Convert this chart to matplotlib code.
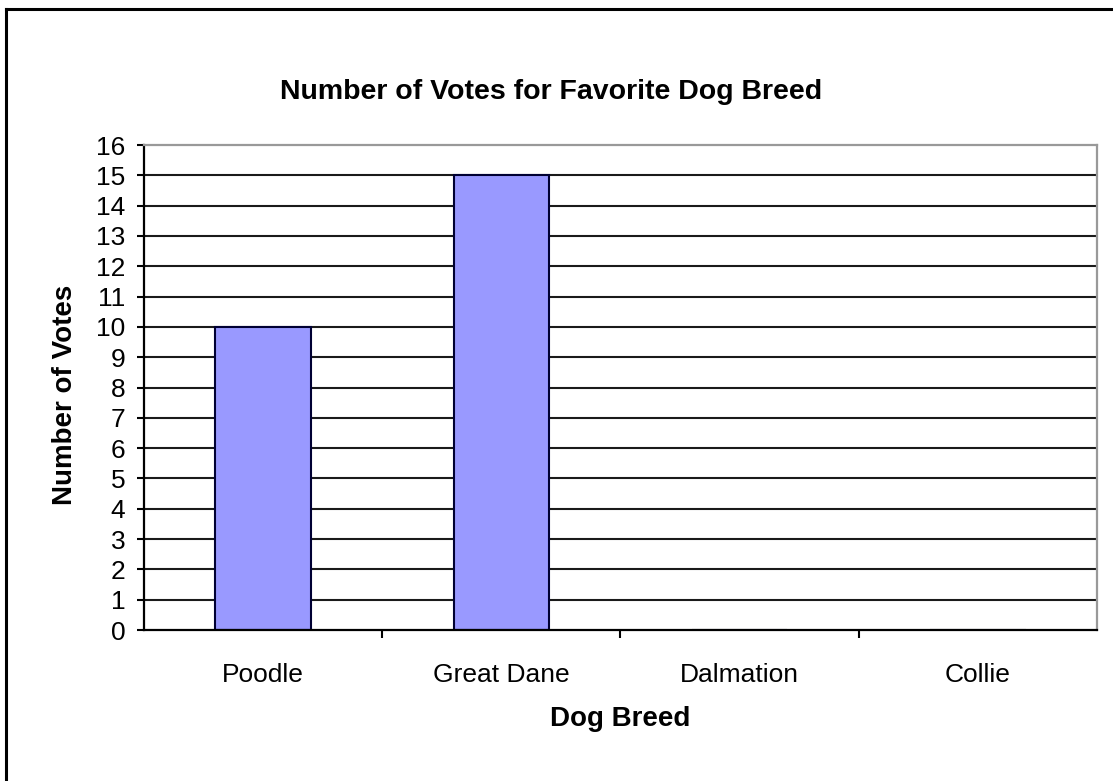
import numpy as np
import matplotlib.pyplot as plt
from matplotlib.lines import Line2D

# Chart data
breeds = ['Poodle', 'Great Dane', 'Dalmation', 'Collie']
votes = [10, 15, 0, 0]
y_ticks = list(range(0, 17))

plt.rcParams['font.family'] = ['Liberation Sans', 'DejaVu Sans']

fig = plt.figure(figsize=(11.13, 7.81), dpi=100)
ax = fig.add_axes([0.1294, 0.1933, 0.8562, 0.6210])

x = np.arange(len(breeds))

# Horizontal gridlines
for v in y_ticks[1:-1]:
    ax.axhline(v, color='#1a1a1a', lw=1.5, zorder=1)

ax.bar(x, votes, width=0.4, color='#9999ff', edgecolor='#000033',
       linewidth=1.5, zorder=2)

ax.set_xlim(-0.5, len(breeds) - 0.5)
ax.set_ylim(0, 16)

# Y axis
ax.set_yticks(y_ticks)
ax.set_yticklabels([str(v) for v in y_ticks], fontsize=19)
ax.tick_params(axis='y', direction='out', length=5, width=1.5, pad=8.5)

# X axis: labels at centres, tick marks at boundaries
ax.set_xticks(x)
ax.set_xticklabels(breeds, fontsize=19)
ax.tick_params(axis='x', which='major', length=0, pad=23.5)
ax.set_xticks(np.arange(0.5, len(breeds) - 0.5, 1), minor=True)
ax.tick_params(axis='x', which='minor', direction='out', length=6, width=1.5)

for s in ['left', 'bottom']:
    ax.spines[s].set_color('black')
    ax.spines[s].set_linewidth(1.6)
for s in ['top', 'right']:
    ax.spines[s].set_color('#999999')
    ax.spines[s].set_linewidth(1.6)

ax.set_xlabel('Dog Breed', fontsize=20, fontweight='bold', labelpad=14)
fig.text(0.0585, 0.4942, 'Number of Votes', rotation=90, ha='center',
         va='center', fontsize=20, fontweight='bold')

fig.text(0.495, 0.882, 'Number of Votes for Favorite Dog Breed',
         ha='center', va='center', fontsize=20.5, fontweight='bold')

# Outer chart border (top and left edges visible)
fig.add_artist(Line2D([0.0058, 0.0058], [0, 0.9885], transform=fig.transFigure,
                      color='black', lw=2.2))
fig.add_artist(Line2D([0.0058, 1], [0.9885, 0.9885], transform=fig.transFigure,
                      color='black', lw=2.2))

fig.savefig('out.png', dpi=100)
